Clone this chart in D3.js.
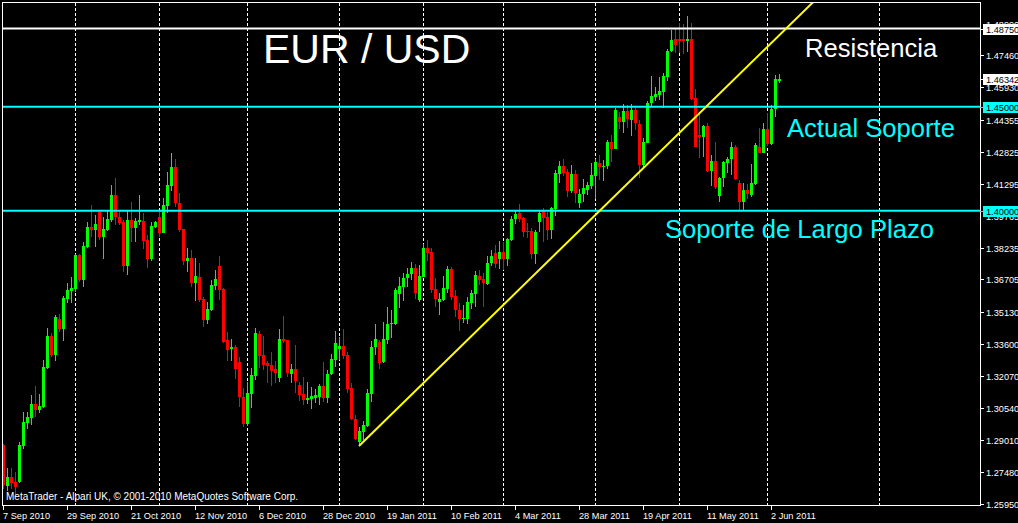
<!DOCTYPE html>
<html><head><meta charset="utf-8">
<script src="https://cdn.jsdelivr.net/npm/d3@7"></script>
<style>html,body{margin:0;padding:0;background:#000;overflow:hidden}</style>
</head><body>
<svg id="c" width="1018" height="523"></svg>
<script>
// ---- DATA (EUR/USD daily, 7 Sep 2010 - 6 Jun 2011, one entry per bar) ----
const opens = [1.2876,1.2679,1.2722,1.2698,1.2698,1.2871,1.2982,1.3006,1.3073,1.3044,
1.3058,1.3246,1.3399,1.3308,1.3481,1.3433,1.3577,1.3615,1.3625,1.3788,
1.3668,1.3826,1.3922,1.3908,1.3994,1.3874,1.3908,1.3956,1.4076,1.3970,
1.3946,1.3735,1.3956,1.3918,1.3946,1.3951,1.3860,1.3769,1.3922,1.3970,
1.3894,1.4023,1.4119,1.4210,1.4038,1.3913,1.3759,1.3774,1.3654,1.3682,
1.3577,1.3476,1.3524,1.3639,1.3735,1.3625,1.3380,1.3337,1.3346,1.3274,
1.3106,1.2977,1.3121,1.3207,1.3409,1.3308,1.3270,1.3260,1.3241,1.3198,
1.3385,1.3380,1.3217,1.3241,1.3164,1.3121,1.3092,1.3097,1.3102,1.3106,
1.3159,1.3102,1.3217,1.3284,1.3337,1.3351,1.3308,1.3150,1.3001,1.2890,
1.2938,1.2967,1.3121,1.3346,1.3370,1.3274,1.3380,1.3457,1.3457,1.3601,
1.3634,1.3678,1.3697,1.3726,1.3572,1.3682,1.3822,1.3802,1.3625,1.3562,
1.3572,1.3625,1.3721,1.3591,1.3524,1.3481,1.3481,1.3558,1.3601,1.3687,
1.3673,1.3649,1.3750,1.3798,1.3769,1.3802,1.3769,1.3860,1.3961,1.3990,
1.3966,1.3903,1.3903,1.3793,1.3946,1.3999,1.3970,1.3908,1.4009,1.4177,
1.4215,1.4186,1.4095,1.4177,1.4038,1.4081,1.4100,1.4119,1.4167,1.4230,
1.4210,1.4215,1.4330,1.4297,1.4450,1.4426,1.4479,1.4436,1.4484,1.4417,
1.4220,1.4326,1.4518,1.4546,1.4556,1.4570,1.4642,1.4767,1.4825,1.4825,
1.4825,1.4815,1.4825,1.4542,1.4364,1.4354,1.4407,1.4191,1.4239,1.4071,
1.4158,1.4230,1.4249,1.4306,1.4134,1.4042,1.4100,1.4076,1.4129,1.4306,
1.4278,1.4393,1.4321,1.4489,1.4623];
const highs = [1.2881,1.2766,1.2766,1.2746,1.2890,1.3034,1.3034,1.3116,1.3159,1.3121,
1.3284,1.3438,1.3414,1.3500,1.3505,1.3591,1.3654,1.3682,1.3793,1.3793,
1.3850,1.3946,1.4028,1.3980,1.4004,1.3970,1.3999,1.4124,1.4158,1.3994,
1.3956,1.3999,1.4042,1.3966,1.4076,1.3990,1.3884,1.3946,1.3951,1.4004,
1.4062,1.4186,1.4278,1.4249,1.4086,1.3913,1.3822,1.3812,1.3774,1.3750,
1.3586,1.3562,1.3668,1.3716,1.3783,1.3630,1.3418,1.3385,1.3356,1.3298,
1.3150,1.3178,1.3246,1.3438,1.3423,1.3399,1.3279,1.3322,1.3279,1.3433,
1.3495,1.3380,1.3265,1.3356,1.3178,1.3202,1.3178,1.3154,1.3145,1.3169,
1.3274,1.3236,1.3313,1.3423,1.3394,1.3433,1.3322,1.3174,1.3020,1.2962,
1.2991,1.3145,1.3375,1.3457,1.3380,1.3466,1.3538,1.3524,1.3630,1.3682,
1.3702,1.3726,1.3754,1.3745,1.3740,1.3841,1.3860,1.3822,1.3678,1.3606,
1.3687,1.3735,1.3730,1.3620,1.3558,1.3548,1.3586,1.3620,1.3711,1.3716,
1.3702,1.3783,1.3812,1.3836,1.3855,1.3850,1.3870,1.3975,1.3999,1.4033,
1.3970,1.3942,1.3918,1.3908,1.4004,1.4014,1.3994,1.4018,1.4196,1.4239,
1.4249,1.4201,1.4220,1.4196,1.4105,1.4153,1.4138,1.4230,1.4249,1.4268,
1.4244,1.4340,1.4364,1.4494,1.4474,1.4513,1.4508,1.4513,1.4498,1.4436,
1.4350,1.4527,1.4647,1.4594,1.4642,1.4662,1.4777,1.4868,1.4873,1.4902,
1.4897,1.4935,1.4902,1.4585,1.4470,1.4412,1.4422,1.4268,1.4330,1.4162,
1.4239,1.4258,1.4330,1.4316,1.4148,1.4134,1.4129,1.4225,1.4326,1.4398,
1.4422,1.4470,1.4508,1.4652,1.4657];
const lows = [1.2665,1.2655,1.2665,1.2636,1.2694,1.2857,1.2953,1.2972,1.3010,1.3030,
1.3054,1.3241,1.3298,1.3279,1.3418,1.3375,1.3558,1.3558,1.3610,1.3658,
1.3634,1.3822,1.3874,1.3826,1.3860,1.3769,1.3903,1.3946,1.3932,1.3932,
1.3706,1.3692,1.3850,1.3850,1.3932,1.3817,1.3726,1.3759,1.3918,1.3874,
1.3894,1.3990,1.4095,1.4018,1.3898,1.3740,1.3706,1.3634,1.3567,1.3562,
1.3442,1.3457,1.3519,1.3620,1.3572,1.3366,1.3279,1.3279,1.3193,1.3058,
1.2962,1.2967,1.3054,1.3188,1.3246,1.3236,1.3174,1.3159,1.3174,1.3178,
1.3366,1.3202,1.3174,1.3126,1.3087,1.3068,1.3073,1.3049,1.3078,1.3068,
1.3082,1.3078,1.3212,1.3250,1.3284,1.3289,1.3126,1.2996,1.2900,1.2871,
1.2900,1.2962,1.3082,1.3308,1.3241,1.3270,1.3361,1.3390,1.3452,1.3534,
1.3567,1.3634,1.3668,1.3577,1.3562,1.3682,1.3759,1.3606,1.3538,1.3500,
1.3567,1.3606,1.3572,1.3490,1.3423,1.3462,1.3457,1.3529,1.3538,1.3644,
1.3538,1.3644,1.3735,1.3726,1.3721,1.3716,1.3735,1.3855,1.3937,1.3946,
1.3874,1.3870,1.3769,1.3745,1.3898,1.3850,1.3860,1.3865,1.3975,1.4134,
1.4167,1.4066,1.4086,1.4038,1.4014,1.4042,1.4076,1.4105,1.4057,1.4148,
1.4143,1.4201,1.4234,1.4297,1.4393,1.4374,1.4398,1.4359,1.4388,1.4158,
1.4206,1.4326,1.4503,1.4527,1.4532,1.4494,1.4623,1.4762,1.4758,1.4758,
1.4753,1.4762,1.4532,1.4306,1.4254,1.4258,1.4186,1.4119,1.4105,1.4042,
1.4114,1.4182,1.4172,1.4148,1.4004,1.3999,1.4057,1.4066,1.4124,1.4278,
1.4278,1.4311,1.4316,1.4450,1.4614];
const closes = [1.2684,1.2722,1.2694,1.2674,1.2876,1.2986,1.3010,1.3073,1.3044,1.3063,
1.3250,1.3399,1.3308,1.3490,1.3433,1.3582,1.3620,1.3630,1.3788,1.3668,
1.3831,1.3922,1.3908,1.3937,1.3874,1.3913,1.3961,1.4076,1.3970,1.3942,
1.3735,1.3956,1.3918,1.3951,1.3956,1.3855,1.3769,1.3927,1.3946,1.3894,
1.4028,1.4124,1.4210,1.4038,1.3908,1.3759,1.3774,1.3654,1.3687,1.3572,
1.3476,1.3529,1.3644,1.3673,1.3620,1.3370,1.3332,1.3346,1.3241,1.3106,
1.2977,1.3126,1.3212,1.3414,1.3303,1.3260,1.3255,1.3231,1.3222,1.3385,
1.3375,1.3222,1.3241,1.3183,1.3116,1.3092,1.3102,1.3111,1.3116,1.3159,
1.3102,1.3217,1.3289,1.3366,1.3351,1.3303,1.3145,1.3001,1.2905,1.2943,
1.2972,1.3126,1.3346,1.3385,1.3270,1.3385,1.3457,1.3462,1.3620,1.3639,
1.3678,1.3697,1.3726,1.3606,1.3687,1.3822,1.3798,1.3620,1.3577,1.3577,
1.3630,1.3721,1.3586,1.3524,1.3481,1.3486,1.3562,1.3606,1.3692,1.3668,
1.3654,1.3750,1.3783,1.3745,1.3802,1.3769,1.3865,1.3961,1.3985,1.3961,
1.3898,1.3898,1.3793,1.3898,1.3990,1.3966,1.3908,1.4014,1.4182,1.4215,
1.4182,1.4095,1.4177,1.4086,1.4081,1.4110,1.4124,1.4172,1.4234,1.4210,
1.4215,1.4330,1.4297,1.4484,1.4426,1.4479,1.4441,1.4484,1.4422,1.4220,
1.4330,1.4518,1.4551,1.4561,1.4575,1.4647,1.4767,1.4820,1.4796,1.4815,
1.4815,1.4825,1.4537,1.4306,1.4354,1.4407,1.4191,1.4239,1.4114,1.4158,
1.4234,1.4249,1.4306,1.4153,1.4042,1.4100,1.4081,1.4134,1.4316,1.4278,
1.4393,1.4321,1.4489,1.4633,1.4634];

const dateTickIndex  = [0,16,32,48,64,80,96,112,128,144,160,176,192];
const dateTickLabels = ["7 Sep 2010","29 Sep 2010","21 Oct 2010","12 Nov 2010","6 Dec 2010","28 Dec 2010",
  "19 Jan 2011","10 Feb 2011","4 Mar 2011","28 Mar 2011","19 Apr 2011","11 May 2011","2 Jun 2011"];
const monthSeparatorIndex = [18,39,61,84,105,125,148,169,191,219];

const priceTicks = [1.25950,1.27480,1.29010,1.30540,1.32070,1.33600,1.35130,1.36705,1.38235,1.39765,
  1.41295,1.42825,1.44355,1.45930,1.47460,1.48990];
const priceTickLabels = ["1.25950","1.27480","1.29010","1.30540","1.32070","1.33600","1.35130","1.36705",
  "1.38235","1.39765","1.41295","1.42825","1.44355","1.45930","1.47460","1.48990"];

const levelPrices = [1.4875, 1.4500, 1.4000];
const levelLabels = ["1.48750","1.45000","1.40000"];
const levelNames  = ["Resistencia","Actual Soporte","Soporte de Largo Plazo"];
const lastPrice = 1.46342, lastPriceLabel = "1.46342";
const trendIndex = [89, 202.5];
const trendPrice = [1.2871, 1.5001];
const chartTitle = "EUR / USD";
const copyrightText = "MetaTrader - Alpari UK, \u00A9 2001-2010 MetaQuotes Software Corp.";

// ---- LAYOUT ----
const W = 1018, H = 523;
const plotL = 3, plotR = 980, plotT = 3, plotB = 505;
const FONT = "'Liberation Sans', Arial, sans-serif";

const x = d3.scaleLinear().domain([0, 1]).range([3, 7]);          // 4 px per bar
const y = d3.scaleLinear().domain([1.4875, 1.2595]).range([28.5, 503.5]);

const svg = d3.select("#c");
svg.append("rect").attr("width", W).attr("height", H).attr("fill", "#000");

const defs = svg.append("defs");
defs.append("clipPath").attr("id", "plotClip")
  .append("rect").attr("x", plotL).attr("y", plotT).attr("width", plotR - plotL).attr("height", plotB - plotT);

const plot = svg.append("g").attr("clip-path", "url(#plotClip)");

// month separators (dotted)
plot.selectAll("line.sep").data(monthSeparatorIndex).join("line")
  .attr("class", "sep")
  .attr("x1", d => x(d) + 0.5).attr("x2", d => x(d) + 0.5)
  .attr("y1", plotT).attr("y2", plotB)
  .attr("stroke", "#fff").attr("stroke-width", 1).attr("stroke-dasharray", "3,2")
  .attr("shape-rendering", "crispEdges");

// candles
const bars = d3.range(opens.length).map(i => ({i, o: opens[i], h: highs[i], l: lows[i], c: closes[i]}));
const col = d => d.c >= d.o ? "#00ff00" : "#ff0000";
plot.selectAll("line.wick").data(bars).join("line")
  .attr("class", "wick")
  .attr("x1", d => x(d.i) + 0.5).attr("x2", d => x(d.i) + 0.5)
  .attr("y1", d => y(d.h)).attr("y2", d => y(d.l))
  .attr("stroke", col).attr("stroke-width", 1).attr("shape-rendering", "crispEdges");
plot.selectAll("rect.body").data(bars).join("rect")
  .attr("class", "body")
  .attr("x", d => x(d.i) - 1).attr("width", 3)
  .attr("y", d => Math.min(y(d.o), y(d.c)))
  .attr("height", d => Math.max(1, Math.abs(y(d.o) - y(d.c))))
  .attr("fill", col).attr("shape-rendering", "crispEdges");

// horizontal levels
const levelColors = ["#ffffff", "#00ffff", "#00ffff"];
plot.selectAll("line.level").data(levelPrices).join("line")
  .attr("class", "level")
  .attr("x1", plotL).attr("x2", plotR)
  .attr("y1", d => y(d)).attr("y2", d => y(d))
  .attr("stroke", (d, i) => levelColors[i]).attr("stroke-width", 2);

// trend line
plot.append("line")
  .attr("x1", x(trendIndex[0])).attr("y1", y(trendPrice[0]))
  .attr("x2", x(trendIndex[1])).attr("y2", y(trendPrice[1]))
  .attr("stroke", "#ffff00").attr("stroke-width", 2);

// annotation texts
svg.append("text").attr("x", 263).attr("y", 63).text(chartTitle)
  .attr("fill", "#fff").attr("font-family", FONT).attr("font-size", 41);
const nameX = [805, 787, 665], nameY = [57, 137, 238];
levelNames.forEach((t, i) => {
  svg.append("text").attr("x", nameX[i]).attr("y", nameY[i]).text(t)
    .attr("fill", levelColors[i]).attr("font-family", FONT).attr("font-size", 25.6);
});
svg.append("text").attr("x", 6).attr("y", 500).text(copyrightText)
  .attr("fill", "#fff").attr("font-family", FONT).attr("font-size", 10);

// frame
svg.append("rect").attr("x", 2.5).attr("y", 2.5).attr("width", plotR - 2).attr("height", plotB - 2)
  .attr("fill", "none").attr("stroke", "#fff").attr("stroke-width", 1).attr("shape-rendering", "crispEdges");

// right price axis
const boxes = [
  {p: levelPrices[0], t: levelLabels[0], bg: "#ffffff"},
  {p: lastPrice, t: lastPriceLabel, bg: "#ffffff"},
  {p: levelPrices[1], t: levelLabels[1], bg: "#00ffff"},
  {p: levelPrices[2], t: levelLabels[2], bg: "#00ffff"}
];
// tick labels are hidden where a price box covers them (as in the terminal)
const axisClip = defs.append("clipPath").attr("id", "axisClip");
const boxTop = b => Math.round(y(b.p)) - 5;
let cursor = 0;
boxes.map(boxTop).sort((a, b) => a - b).forEach(t => {
  axisClip.append("rect").attr("x", 980).attr("y", cursor).attr("width", 38).attr("height", Math.max(0, t - cursor));
  cursor = t + 11;
});
axisClip.append("rect").attr("x", 980).attr("y", cursor).attr("width", 38).attr("height", H - cursor);

const yAxisG = svg.append("g").attr("clip-path", "url(#axisClip)");
priceTicks.forEach((p, i) => {
  const yy = Math.round(y(p)) + 0.5;
  yAxisG.append("line").attr("x1", plotR).attr("x2", plotR + 4).attr("y1", yy).attr("y2", yy)
    .attr("stroke", "#fff").attr("shape-rendering", "crispEdges");
  yAxisG.append("text").attr("x", 986).attr("y", yy + 3.5).text(priceTickLabels[i])
    .attr("fill", "#fff").attr("font-family", FONT).attr("font-size", 9.2);
});
const boxG = svg.append("g");
boxes.forEach(b => {
  const yy = Math.round(y(b.p));
  boxG.append("line").attr("x1", plotR).attr("x2", plotR + 4).attr("y1", yy + 0.5).attr("y2", yy + 0.5)
    .attr("stroke", b.bg).attr("shape-rendering", "crispEdges");
  boxG.append("rect").attr("x", 983).attr("y", yy - 5).attr("width", 35).attr("height", 11)
    .attr("fill", b.bg).attr("shape-rendering", "crispEdges");
  boxG.append("text").attr("x", 986).attr("y", yy + 4).text(b.t)
    .attr("fill", "#000").attr("font-family", FONT).attr("font-size", 9.2);
});

// bottom date axis
dateTickIndex.forEach((d, i) => {
  const xx = x(d) + 0.5;
  svg.append("line").attr("x1", xx).attr("x2", xx).attr("y1", plotB).attr("y2", plotB + 5)
    .attr("stroke", "#fff").attr("shape-rendering", "crispEdges");
  svg.append("text").attr("x", x(d)).attr("y", 519).text(dateTickLabels[i])
    .attr("fill", "#fff").attr("font-family", FONT).attr("font-size", 9.2);
});
</script>
</body></html>
